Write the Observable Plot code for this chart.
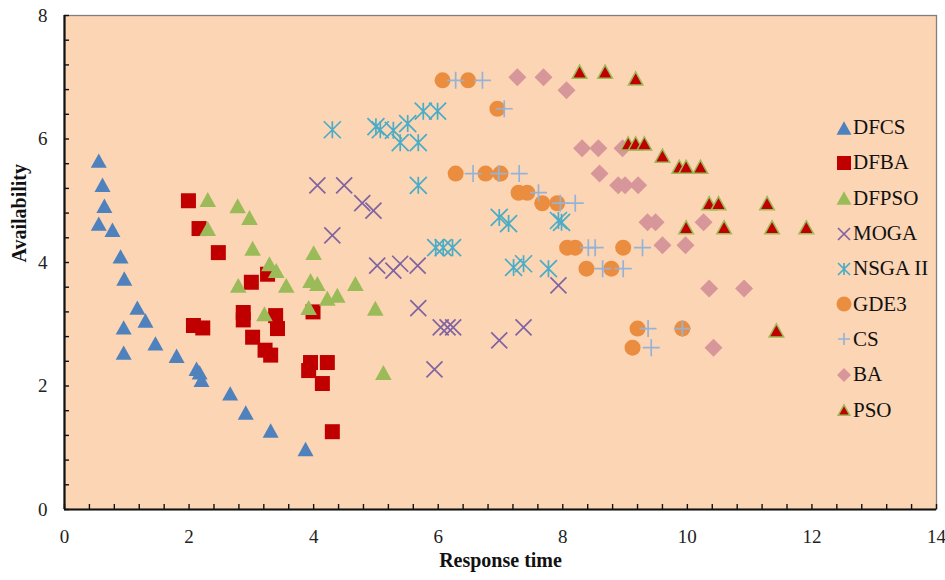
<!DOCTYPE html>
<html><head><meta charset="utf-8">
<script src="https://cdn.jsdelivr.net/npm/d3@7"></script>
<script src="https://cdn.jsdelivr.net/npm/@observablehq/plot@0.6"></script>
<style>
body{margin:0;background:#fff;}
#wrap{position:relative;width:945px;height:580px;}
#legend{position:absolute;left:835px;top:110px;font-family:"Liberation Serif","Times New Roman",serif;font-size:21px;color:#111;}
.item{display:flex;align-items:center;height:35.3px;white-space:nowrap;}
.item svg{width:18px;height:18px;overflow:visible;flex:none;}
</style></head><body><div id="wrap"><div id="legend"></div></div>
<script>
// ---- data (Response time, Availability) ----
const seriesNames = ["DFCS","DFBA","DFPSO","MOGA","NSGA II","GDE3","CS","BA","PSO"];
const DFCS = [[0.55,5.65],[0.61,5.26],[0.64,4.92],[0.55,4.63],[0.77,4.53],[0.90,4.10],[0.96,3.74],[1.17,3.27],[1.30,3.06],[0.95,2.95],[1.46,2.69],[0.95,2.54],[1.80,2.49],[2.12,2.28],[2.17,2.22],[2.20,2.10],[2.66,1.88],[2.91,1.57],[3.31,1.28],[3.87,0.98]];
const DFBA = [[1.99,5.00],[2.16,4.55],[2.47,4.16],[2.07,2.98],[2.22,2.94],[2.87,3.19],[2.87,3.07],[3.00,3.68],[3.26,3.81],[3.02,2.79],[3.22,2.58],[3.31,2.50],[3.39,3.14],[3.42,2.93],[3.99,3.20],[3.95,2.38],[4.22,2.38],[3.92,2.25],[4.14,2.04],[4.30,1.26]];
const DFPSO = [[2.30,5.02],[2.30,4.55],[2.78,4.92],[2.97,4.73],[3.02,4.23],[2.79,3.63],[3.29,3.98],[3.40,3.87],[3.56,3.63],[4.00,4.16],[3.95,3.71],[4.06,3.66],[3.21,3.17],[3.92,3.27],[4.22,3.42],[4.38,3.47],[4.67,3.66],[4.99,3.26],[5.12,2.22]];
const MOGA = [[4.06,5.25],[4.49,5.25],[4.78,4.96],[4.96,4.84],[4.30,4.44],[5.02,3.95],[5.28,3.87],[5.39,3.98],[5.67,3.95],[5.68,3.26],[6.04,2.95],[6.15,2.95],[6.24,2.95],[6.98,2.74],[7.37,2.95],[5.94,2.27],[7.93,3.63]];
const NSGA2 = [[4.30,6.15],[5.00,6.20],[5.07,6.15],[5.28,6.14],[5.51,6.25],[5.39,5.94],[5.68,5.94],[5.76,6.45],[5.99,6.45],[5.68,5.25],[5.96,4.24],[6.08,4.24],[6.23,4.24],[6.98,4.73],[7.13,4.63],[7.21,3.92],[7.37,3.98],[7.77,3.90],[7.93,4.68],[7.98,4.65]];
const GDE3 = [[6.07,6.95],[6.48,6.95],[6.95,6.49],[6.28,5.44],[6.76,5.44],[7.00,5.44],[7.29,5.13],[7.43,5.13],[7.67,4.96],[7.91,4.96],[8.07,4.24],[8.20,4.24],[8.97,4.24],[8.38,3.90],[8.78,3.90],[9.20,2.93],[9.12,2.62],[9.92,2.93]];
const CS = [[6.28,6.95],[6.71,6.95],[7.06,6.49],[6.56,5.44],[6.97,5.44],[7.30,5.44],[7.61,5.13],[7.96,4.96],[8.20,4.96],[8.41,4.24],[8.52,4.24],[9.28,4.24],[8.64,3.90],[8.97,3.90],[9.37,2.93],[9.42,2.62],[9.92,2.93]];
const BA = [[7.27,7.00],[7.69,7.00],[8.06,6.79],[8.31,5.85],[8.57,5.85],[8.96,5.85],[8.59,5.44],[8.89,5.25],[9.00,5.25],[9.21,5.25],[9.36,4.65],[9.49,4.65],[10.26,4.65],[9.60,4.28],[9.97,4.28],[10.35,3.58],[10.91,3.58],[10.42,2.62]];
const PSO = [[8.27,7.09],[8.68,7.09],[9.17,6.98],[9.05,5.93],[9.17,5.93],[9.31,5.93],[9.60,5.73],[9.87,5.55],[9.98,5.55],[10.21,5.55],[10.35,4.96],[10.50,4.96],[11.28,4.96],[9.98,4.57],[10.59,4.57],[11.36,4.57],[11.91,4.57],[11.43,2.90]];
const seriesData = [DFCS, DFBA, DFPSO, MOGA, NSGA2, GDE3, CS, BA, PSO];
const xTickLabels = [0,2,4,6,8,10,12,14];
const yTickLabels = [0,2,4,6,8];

// ---- marker shapes (half-extent = sqrt(size/PI) = r) ----
const half = s => Math.sqrt(s / Math.PI);
const triangle = {draw(c, s){const r = half(s), h = r*0.9; c.moveTo(0,-h); c.lineTo(r,h); c.lineTo(-r,h); c.closePath();}};
const square = {draw(c, s){const r = half(s); c.moveTo(-r,-r); c.lineTo(r,-r); c.lineTo(r,r); c.lineTo(-r,r); c.closePath();}};
const diamond = {draw(c, s){const r = half(s); c.moveTo(0,-r); c.lineTo(r,0); c.lineTo(0,r); c.lineTo(-r,0); c.closePath();}};
const circle = {draw(c, s){const r = half(s); c.moveTo(r,0); c.arc(0,0,r,0,2*Math.PI);}};
const times = {draw(c, s){const r = half(s); c.moveTo(-r,-r); c.lineTo(r,r); c.moveTo(-r,r); c.lineTo(r,-r);}};
const plus = {draw(c, s){const r = half(s); c.moveTo(-r,0); c.lineTo(r,0); c.moveTo(0,-r); c.lineTo(0,r);}};
const star = {draw(c, s){const r = half(s); c.moveTo(-r,-r); c.lineTo(r,r); c.moveTo(-r,r); c.lineTo(r,-r); c.moveTo(0,-r); c.lineTo(0,r);}};

const styles = [
  {symbol: triangle, r: 8,   lr: 7.5, fill: "#4F81BD", stroke: "none", sw: 0},
  {symbol: square,   r: 7.5, lr: 7,   fill: "#C00000", stroke: "none", sw: 0},
  {symbol: triangle, r: 8.3, lr: 7.5, fill: "#9BBB59", stroke: "none", sw: 0},
  {symbol: times,    r: 8,   lr: 6,   fill: "none", stroke: "#8064A2", sw: 1.7},
  {symbol: star,     r: 8.5, lr: 6,   fill: "none", stroke: "#4BACC6", sw: 1.7},
  {symbol: circle,   r: 8,   lr: 7.5, fill: "#EB8D3F", stroke: "none", sw: 0},
  {symbol: plus,     r: 8.5, lr: 6,   fill: "none", stroke: "#95B3D7", sw: 1.7},
  {symbol: diamond,  r: 9,   lr: 7,   fill: "#D79699", stroke: "none", sw: 0},
  {symbol: triangle, r: 7.3, lr: 5.8, fill: "#C00000", stroke: "#9BBB59", sw: 1.5}
];

const serif = "'Liberation Serif','Times New Roman',serif";
const xDomain = [0, 14], yDomain = [0, 8];
const minorX = d3.range(0, 36).map(i => i * 0.4);
const minorY = d3.range(0, 21).map(i => i * 0.4);
const W = 945, H = 580, mL = 64, mR = 9, mT = 15, mB = 71;
const innerW = W - mL - mR, innerH = H - mT - mB, tickLen = 5;
// tick length expressed in each scale's units
const tickDY = tickLen * (yDomain[1] - yDomain[0]) / innerH;
const tickDX = tickLen * (xDomain[1] - xDomain[0]) / innerW;

const dotMarks = seriesData.map((data, i) => {
  const s = styles[i];
  return Plot.dot(data, {x: d => d[0], y: d => d[1], symbol: s.symbol, r: s.r,
    fill: s.fill, stroke: s.stroke, strokeWidth: s.sw});
});

const chart = Plot.plot({
  width: W, height: H,
  marginLeft: mL, marginRight: mR, marginTop: mT, marginBottom: mB,
  style: {fontFamily: serif, fontSize: "19px", background: "#fff", color: "#222"},
  x: {domain: xDomain},
  y: {domain: yDomain},
  marks: [
    Plot.frame({fill: "#FCD5B5", stroke: "#808080", strokeWidth: 1.3}),
    Plot.ruleX(minorX.filter(v => v <= 14.001), {x: d => d, y1: yDomain[0], y2: yDomain[0] + tickDY, stroke: "#111", strokeWidth: 1.4}),
    Plot.ruleY(minorY, {y: d => d, x1: xDomain[0], x2: xDomain[0] + tickDX, stroke: "#111", strokeWidth: 1.4}),
    Plot.axisX({ticks: xTickLabels, tickSize: 0, tickPadding: 20, label: null, fill: "#222", fontSize: 19}),
    Plot.axisY({ticks: yTickLabels, tickSize: 0, tickPadding: 17, label: null, fill: "#222", fontSize: 19}),
    Plot.ruleY([0], {stroke: "#111", strokeWidth: 2.2}),
    Plot.ruleX([0], {stroke: "#111", strokeWidth: 2.2}),
    ...dotMarks,
    Plot.text(["Response time"], {text: d => d, frameAnchor: "bottom", dy: 57, fontWeight: "bold", fontSize: 20, fill: "#111"}),
    Plot.text(["Availability"], {text: d => d, frameAnchor: "left", dx: -45, rotate: -90, fontWeight: "bold", fontSize: 20, fill: "#111"})
  ]
});
document.getElementById("wrap").prepend(chart);

// ---- legend ----
const legend = document.getElementById("legend");
const NS = "http://www.w3.org/2000/svg";
seriesNames.forEach((name, i) => {
  const s = styles[i];
  const item = document.createElement("div");
  item.className = "item";
  const svg = document.createElementNS(NS, "svg");
  svg.setAttribute("viewBox", "-9 -9 18 18");
  const p = d3.path();
  s.symbol.draw(p, s.lr * s.lr * Math.PI);
  const path = document.createElementNS(NS, "path");
  path.setAttribute("d", p.toString());
  path.setAttribute("fill", s.fill);
  path.setAttribute("stroke", s.stroke);
  path.setAttribute("stroke-width", s.sw);
  svg.appendChild(path);
  const span = document.createElement("span");
  span.textContent = name;
  item.appendChild(svg);
  item.appendChild(span);
  legend.appendChild(item);
});
</script></body></html>
